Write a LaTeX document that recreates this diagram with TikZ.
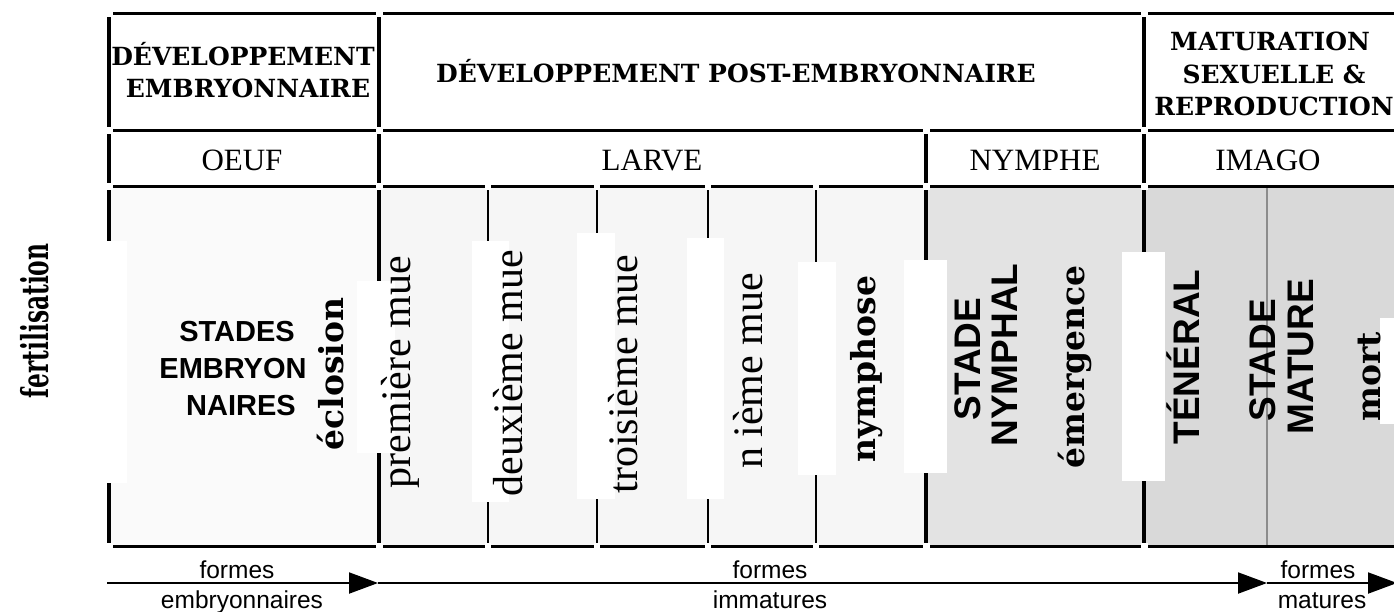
\documentclass[tikz,border=0pt]{standalone}
\usepackage{fontspec}
\usepackage{graphicx}
\setmainfont{Liberation Serif}
\newfontfamily\bsf{DejaVu Serif}
\newfontfamily\hsf{Liberation Sans}
\usetikzlibrary{arrows.meta}
\definecolor{fembryo}{gray}{0.98}
\definecolor{flarve}{gray}{0.965}
\definecolor{fnymphe}{gray}{0.89}
\definecolor{fimago}{gray}{0.85}
\definecolor{gline}{gray}{0.55}
\begin{document}
\begin{tikzpicture}[x=1pt,y=-1pt,
  frame/.style={line width=3.5pt,black},
  thinrule/.style={line width=2.4pt,black},
  grayrule/.style={line width=2pt,gline},
  hdr/.style={font=\bsf\bfseries\fontsize{25}{30}\selectfont,inner sep=0pt,anchor=base},
  rowlab/.style={font=\fontsize{31}{36}\selectfont,inner sep=0pt,anchor=base},
  mue/.style={font=\fontsize{42}{48}\selectfont,rotate=90,anchor=base,inner sep=0pt},
  bev/.style={font=\bsf\bfseries\fontsize{33}{40}\selectfont,rotate=90,anchor=base,inner sep=0pt},
  bst/.style={font=\hsf\bfseries\fontsize{37}{44}\selectfont,rotate=90,anchor=base,inner sep=0pt},
  emb/.style={font=\hsf\bfseries\fontsize{29}{35}\selectfont,anchor=base,inner sep=0pt},
  lab/.style={font=\hsf\fontsize{24.5}{29}\selectfont,anchor=base,inner sep=0pt},
  whitebox/.style={fill=white,draw=none},
  axis/.style={line width=2pt,black,-{Triangle[length=29pt,width=21pt]}}
]
\useasboundingbox (0,0) rectangle (1394,611);
% body fills
\fill[fembryo] (109,186) rectangle (379,547);
\fill[flarve] (379,186) rectangle (926,547);
\fill[fnymphe] (926,186) rectangle (1144,547);
\fill[fimago] (1144,186) rectangle (1394,547);
% inner rules
\draw[thinrule] (488,186) -- (488,547);
\draw[thinrule] (597,186) -- (597,547);
\draw[thinrule] (708,186) -- (708,547);
\draw[thinrule] (816,186) -- (816,547);
\draw[grayrule] (1267,186) -- (1267,547);
% frame
\draw[frame] (107,13.5) -- (1396,13.5);
\draw[frame] (107,130.5) -- (1396,130.5);
\draw[frame] (107,186.5) -- (1396,186.5);
\draw[frame] (107,546.5) -- (1396,546.5);
\draw[frame] (109,12) -- (109,548);
\draw[frame] (379,12) -- (379,548);
\draw[frame] (1144,12) -- (1144,548);
\draw[frame] (926,129) -- (926,548);
% small gaps where the rules meet
\foreach \gx in {109,379,1144} {
  \foreach \gy in {13.5,130.5,186.5,546.5} {
    \fill[white] (\gx-3.5,\gy-3.5) rectangle (\gx+3.5,\gy+3.5);
  }
}
\foreach \gy in {130.5,186.5,546.5} {
  \fill[white] (926-3.5,\gy-3.5) rectangle (926+3.5,\gy+3.5);
}
\foreach \gx in {488,597,708,816} {
  \fill[white] (\gx-3,546.5-3.5) rectangle (\gx+3,546.5+3.5);
  \fill[white] (\gx-3,186.5-3.5) rectangle (\gx+3,186.5+3.5);
}
% white boxes
\fill[whitebox] (104,241) rectangle (127,483);
\fill[whitebox] (357,281) rectangle (395,453);
\fill[whitebox] (472,241) rectangle (509,502);
\fill[whitebox] (577,233) rectangle (615,499);
\fill[whitebox] (687,238) rectangle (724,499);
\fill[whitebox] (798,262) rectangle (836,475);
\fill[whitebox] (904,260) rectangle (947,473);
\fill[whitebox] (1122,252) rectangle (1165,481);
\fill[whitebox] (1380,318) rectangle (1394,424);
% header row 1
\node[hdr] (h1a) at (243,65) {DÉVELOPPEMENT};
\node[hdr] (h1b) at (248,97) {EMBRYONNAIRE};
\node[hdr] (h2) at (736,82) {DÉVELOPPEMENT POST-EMBRYONNAIRE};
\node[hdr] (h3a) at (1270,50) {MATURATION};
\node[hdr] (h3b) at (1274,83) {SEXUELLE \&};
\node[hdr] (h3c) at (1274,115) {REPRODUCTION};
% header row 2
\node[rowlab] (oeuf) at (242,170) {OEUF};
\node[rowlab] (larve) at (652,170) {LARVE};
\node[rowlab] (nymphe) at (1035,170) {NYMPHE};
\node[rowlab] (imago) at (1268,170) {IMAGO};
% body
\node[bev,font=\bsf\bfseries\fontsize{37}{44}\selectfont] (fert) at (48,321) {\scalebox{0.63}[1]{fertilisation}};
\node[emb] (se1) at (237,341) {STADES};
\node[emb] (se2) at (233,378) {EMBRYON};
\node[emb] (se3) at (241,415) {NAIRES};
\node[bev] (eclo) at (343,374) {éclosion};
\node[mue] (m1) at (410,372) {première mue};
\node[mue] (m2) at (522,373) {deuxième mue};
\node[mue] (m3) at (637,374) {troisième mue};
\node[mue] (m4) at (762,371) {n ième mue};
\node[bev] (nymph) at (875,369) {nymphose};
\node[bst] (sn1) at (980,359) {STADE};
\node[bst] (sn2) at (1017,355) {NYMPHAL};
\node[bev] (emerg) at (1084,367) {émergence};
\node[bst] (ten) at (1199,357) {TÉNÉRAL};
\node[bst] (sm1) at (1275,360) {STADE};
\node[bst] (sm2) at (1313,357) {MATURE};
\node[bev] (mort) at (1380,377) {mort};
% axis
\coordinate (a0) at (107,583);
\coordinate (a1) at (378,583);
\coordinate (a2) at (1267,583);
\coordinate (a3) at (1397,583);
\draw[axis] (a0) -- (a1);
\draw[axis] (a1) -- (a2);
\draw[axis] (a2) -- (a3);
\node[lab] (f1) at (237,578) {formes};
\node[lab] (f1b) at (242,608) {embryonnaires};
\node[lab] (f2) at (770,578) {formes};
\node[lab] (f2b) at (770,608) {immatures};
\node[lab] (f3) at (1318,578) {formes};
\node[lab] (f3b) at (1322,608) {matures};
\end{tikzpicture}
\end{document}
